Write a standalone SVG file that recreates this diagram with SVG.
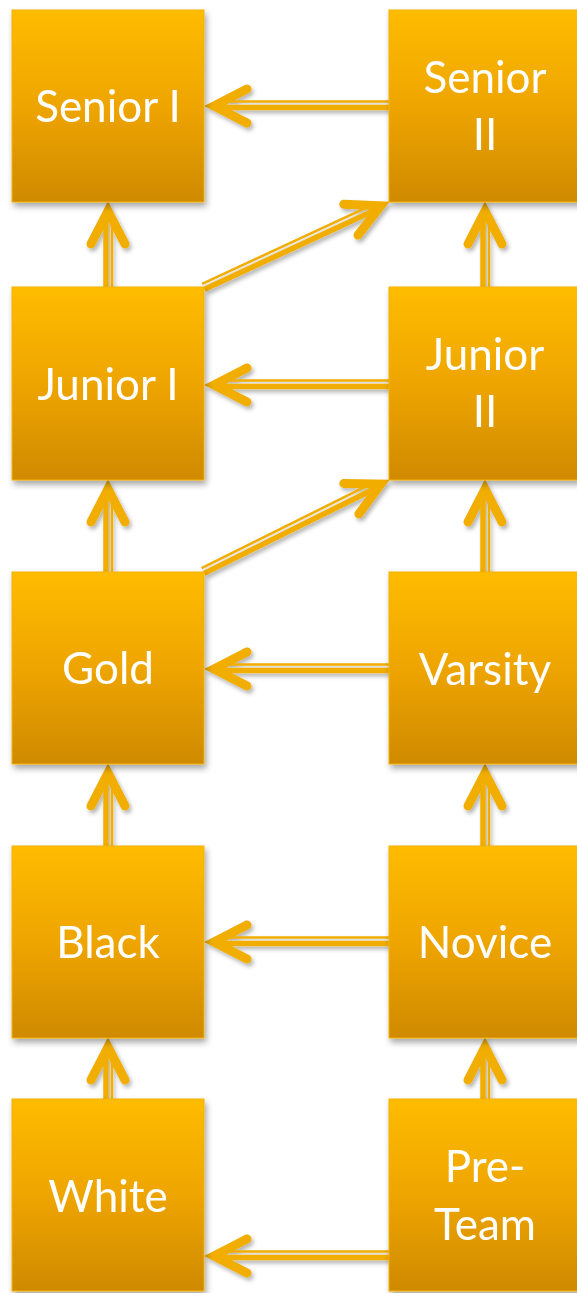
<svg xmlns="http://www.w3.org/2000/svg" width="577" height="1293" viewBox="0 0 577 1293">
<defs>
<linearGradient id="g" x1="0" y1="0" x2="0" y2="1">
<stop offset="0" stop-color="#FEBC00"/>
<stop offset="0.5" stop-color="#EEA500"/>
<stop offset="1" stop-color="#CF8A00"/>
</linearGradient>
<filter id="sh" x="-20%" y="-20%" width="140%" height="140%">
<feDropShadow dx="2" dy="4" stdDeviation="3" flood-color="#000" flood-opacity="0.35"/>
</filter>
<filter id="ash" x="-20%" y="-50%" width="140%" height="200%">
<feDropShadow dx="2" dy="3" stdDeviation="2" flood-color="#000" flood-opacity="0.3"/>
</filter>
<g id="ah">
<path d="M-42,-17 L-9,0 L-42,17" fill="none" stroke="#F1AD00" stroke-width="9" stroke-linecap="round" stroke-linejoin="miter"/>
</g>
</defs>
<style>
.box{fill:url(#g);stroke:#F5B200;stroke-width:1;filter:url(#sh)}
.t{font-family:Lato,"Open Sans",sans-serif;font-size:44px;fill:#fff;text-anchor:middle}
.thin{stroke:#F1AD00;stroke-width:2.5;fill:none}
.thick{stroke:#F1AD00;stroke-width:5.5;fill:none}
</style>
<rect width="577" height="1293" fill="#fff"/>

<g id="connectors" filter="url(#ash)">
<!-- horizontal, pointing left -->
<g transform="translate(205,106) rotate(180)"><line class="thin" x1="-184" y1="4.5" x2="-14" y2="4.5"/><line class="thick" x1="-184" y1="-1.5" x2="-14" y2="-1.5"/><use href="#ah"/></g>
<g transform="translate(205,385) rotate(180)"><line class="thin" x1="-184" y1="4.5" x2="-14" y2="4.5"/><line class="thick" x1="-184" y1="-1.5" x2="-14" y2="-1.5"/><use href="#ah"/></g>
<g transform="translate(205,669) rotate(180)"><line class="thin" x1="-184" y1="4.5" x2="-14" y2="4.5"/><line class="thick" x1="-184" y1="-1.5" x2="-14" y2="-1.5"/><use href="#ah"/></g>
<g transform="translate(205,942) rotate(180)"><line class="thin" x1="-184" y1="4.5" x2="-14" y2="4.5"/><line class="thick" x1="-184" y1="-1.5" x2="-14" y2="-1.5"/><use href="#ah"/></g>
<g transform="translate(205,1256) rotate(180)"><line class="thin" x1="-184" y1="4.5" x2="-14" y2="4.5"/><line class="thick" x1="-184" y1="-1.5" x2="-14" y2="-1.5"/><use href="#ah"/></g>
<!-- vertical, pointing up, left column -->
<g transform="translate(108,202) rotate(-90)"><line class="thin" x1="-85" y1="4" x2="-14" y2="4"/><line class="thick" x1="-85" y1="-2" x2="-14" y2="-2"/><use href="#ah"/></g>
<g transform="translate(108,480) rotate(-90)"><line class="thin" x1="-92" y1="4" x2="-14" y2="4"/><line class="thick" x1="-92" y1="-2" x2="-14" y2="-2"/><use href="#ah"/></g>
<g transform="translate(108,764) rotate(-90)"><line class="thin" x1="-82" y1="4" x2="-14" y2="4"/><line class="thick" x1="-82" y1="-2" x2="-14" y2="-2"/><use href="#ah"/></g>
<g transform="translate(108,1038) rotate(-90)"><line class="thin" x1="-61" y1="4" x2="-14" y2="4"/><line class="thick" x1="-61" y1="-2" x2="-14" y2="-2"/><use href="#ah"/></g>
<!-- vertical, pointing up, right column -->
<g transform="translate(485,202) rotate(-90)"><line class="thin" x1="-85" y1="4" x2="-14" y2="4"/><line class="thick" x1="-85" y1="-2" x2="-14" y2="-2"/><use href="#ah"/></g>
<g transform="translate(485,480) rotate(-90)"><line class="thin" x1="-92" y1="4" x2="-14" y2="4"/><line class="thick" x1="-92" y1="-2" x2="-14" y2="-2"/><use href="#ah"/></g>
<g transform="translate(485,764) rotate(-90)"><line class="thin" x1="-82" y1="4" x2="-14" y2="4"/><line class="thick" x1="-82" y1="-2" x2="-14" y2="-2"/><use href="#ah"/></g>
<g transform="translate(485,1038) rotate(-90)"><line class="thin" x1="-61" y1="4" x2="-14" y2="4"/><line class="thick" x1="-61" y1="-2" x2="-14" y2="-2"/><use href="#ah"/></g>
<!-- diagonals -->
<g transform="translate(389,202) rotate(-24.9)"><line class="thin" x1="-204" y1="-4.5" x2="-14" y2="-4.5"/><line class="thick" x1="-204" y1="1.5" x2="-14" y2="1.5"/><use href="#ah"/></g>
<g transform="translate(389,480) rotate(-26.4)"><line class="thin" x1="-207" y1="-4.5" x2="-14" y2="-4.5"/><line class="thick" x1="-207" y1="1.5" x2="-14" y2="1.5"/><use href="#ah"/></g>
</g>

<g id="senior1"><rect class="box" x="12" y="10" width="192" height="192"/><text class="t" x="108" y="122">Senior I</text></g>
<g id="senior2"><rect class="box" x="389" y="10" width="192" height="192"/><text class="t" x="485" y="93">Senior</text><text class="t" x="485" y="150">II</text></g>
<g id="junior1"><rect class="box" x="12" y="287" width="192" height="193"/><text class="t" x="108" y="400">Junior I</text></g>
<g id="junior2"><rect class="box" x="389" y="287" width="192" height="193"/><text class="t" x="485" y="370">Junior</text><text class="t" x="485" y="427">II</text></g>
<g id="gold"><rect class="box" x="12" y="572" width="192" height="192"/><text class="t" x="108" y="684">Gold</text></g>
<g id="varsity"><rect class="box" x="389" y="572" width="192" height="192"/><text class="t" x="485" y="685">Varsity</text></g>
<g id="black"><rect class="box" x="12" y="846" width="192" height="192"/><text class="t" x="108" y="958">Black</text></g>
<g id="novice"><rect class="box" x="389" y="846" width="192" height="192"/><text class="t" x="485" y="958">Novice</text></g>
<g id="white"><rect class="box" x="12" y="1099" width="192" height="192"/><text class="t" x="108" y="1212">White</text></g>
<g id="preteam"><rect class="box" x="389" y="1099" width="192" height="192"/><text class="t" x="485" y="1182">Pre-</text><text class="t" x="485" y="1240">Team</text></g>
</svg>
